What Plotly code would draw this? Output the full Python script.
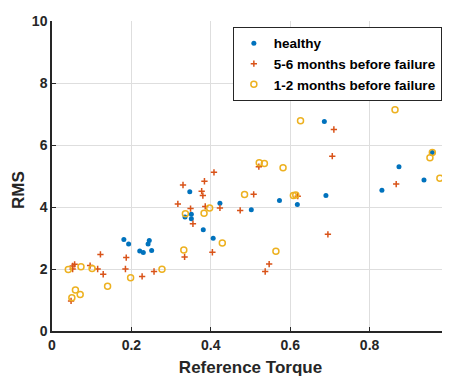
import plotly.graph_objects as go

# healthy
healthy_x = [0.347, 0.423, 0.335, 0.351, 0.351, 0.381, 0.406, 0.181, 0.193, 0.221, 0.230, 0.242,
             0.245, 0.251, 0.502, 0.573, 0.618, 0.690, 0.831, 0.874, 0.937, 0.686, 0.958]
healthy_y = [4.49, 4.12, 3.68, 3.77, 3.62, 3.27, 2.99, 2.95, 2.81, 2.58, 2.53, 2.81,
             2.92, 2.60, 3.91, 4.21, 4.08, 4.37, 4.54, 5.30, 4.87, 6.76, 5.76]

# 5-6 months before failure
m56_x = [0.408, 0.384, 0.330, 0.377, 0.380, 0.317, 0.349, 0.386, 0.423, 0.474, 0.355, 0.404,
         0.334, 0.122, 0.187, 0.057, 0.052, 0.052, 0.096, 0.115, 0.185, 0.129, 0.227, 0.257,
         0.048, 0.521, 0.508, 0.619, 0.695, 0.547, 0.537, 0.867, 0.710, 0.706]
m56_y = [5.12, 4.83, 4.71, 4.51, 4.37, 4.10, 3.95, 4.02, 3.97, 3.89, 3.46, 2.54,
         2.39, 2.47, 2.37, 2.15, 2.10, 2.00, 2.11, 2.00, 2.00, 1.83, 1.76, 1.92,
         0.97, 5.30, 4.41, 4.35, 3.12, 2.16, 1.92, 4.74, 6.50, 5.64]

# 1-2 months before failure
m12_x = [0.485, 0.397, 0.336, 0.383, 0.429, 0.332, 0.041, 0.073, 0.101, 0.198, 0.277, 0.140,
         0.059, 0.071, 0.050, 0.582, 0.608, 0.614, 0.564, 0.977, 0.626, 0.522, 0.535, 0.864,
         0.958, 0.952]
m12_y = [4.40, 3.97, 3.78, 3.80, 2.84, 2.61, 1.98, 2.07, 2.02, 1.72, 1.99, 1.44,
         1.32, 1.18, 1.07, 5.27, 4.37, 4.39, 2.57, 4.93, 6.78, 5.43, 5.40, 7.14,
         5.76, 5.59]

x_ticks = [0, 0.2, 0.4, 0.6, 0.8, 1]
x_tick_text = ["0", "0.2", "0.4", "0.6", "0.8", "1"]
y_ticks = [0, 2, 4, 6, 8, 10]

BLUE = "#0072BD"
ORANGE = "#D95319"
YELLOW = "#EDB120"
FONT = "Liberation Sans, Arial"
TXT = "#262626"

fig = go.Figure()
fig.add_trace(go.Scatter(x=healthy_x, y=healthy_y, mode="markers", name="healthy",
                         marker=dict(symbol="circle", size=5, color=BLUE, line=dict(width=0))))
fig.add_trace(go.Scatter(x=m56_x, y=m56_y, mode="markers", name="5-6 months before failure",
                         marker=dict(symbol="cross-thin", size=4.5, color=ORANGE,
                                     line=dict(width=1.5, color=ORANGE))))
fig.add_trace(go.Scatter(x=m12_x, y=m12_y, mode="markers", name="1-2 months before failure",
                         marker=dict(symbol="circle-open", size=6, color=YELLOW,
                                     line=dict(width=1.5, color=YELLOW))))

axis_common = dict(showline=True, linecolor=TXT, linewidth=1.5, mirror=False,
                   ticks="inside", ticklen=4, tickwidth=1.2, tickcolor=TXT,
                   showgrid=True, gridcolor="#dedede", gridwidth=1.2, zeroline=False,
                   ticklabeloverflow="allow",
                   tickfont=dict(family=FONT, size=14, color=TXT, weight="bold"))

fig.update_layout(
    width=450, height=377,
    margin=dict(l=44, r=8, t=5, b=54),
    paper_bgcolor="white", plot_bgcolor="white",
    font=dict(family=FONT, size=14, color=TXT, weight="bold"),
    showlegend=True,
    legend=dict(x=0.982, y=0.981, xanchor="right", yanchor="top",
                bgcolor="white", bordercolor=TXT, borderwidth=1,
                font=dict(family=FONT, size=13.5, color="#000000", weight="bold"),
                itemwidth=30, tracegroupgap=0),
    xaxis=dict(range=[0, 1], tickvals=x_ticks, ticktext=x_tick_text,
               title=dict(text="Reference Torque", standoff=10,
                          font=dict(family=FONT, size=17, color=TXT, weight="bold")),
               **axis_common),
    yaxis=dict(range=[0, 10], tickvals=y_ticks, **axis_common),
    annotations=[dict(text="RMS", xref="paper", yref="paper", x=-0.083, y=0.455,
                      xanchor="center", yanchor="middle", textangle=-90, showarrow=False,
                      font=dict(family=FONT, size=17, color=TXT, weight="bold"))],
)

fig.write_html("out.html")
